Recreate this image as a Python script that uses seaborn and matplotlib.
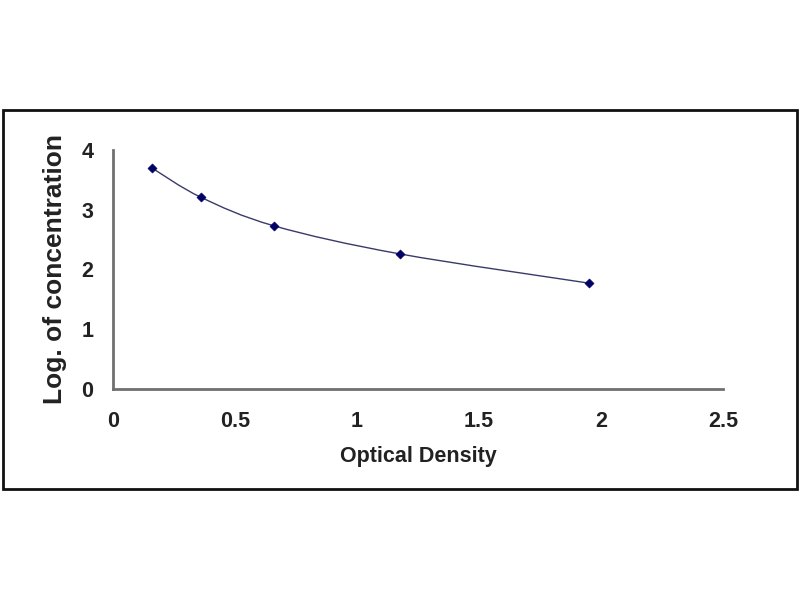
import numpy as np
import pandas as pd
import matplotlib
matplotlib.use("Agg")
import matplotlib.pyplot as plt
from matplotlib.path import Path
from matplotlib.patches import PathPatch, Rectangle
import seaborn as sns

# Data
optical_density = [0.16, 0.36, 0.66, 1.175, 1.95]
log_concentration = [3.70, 3.21, 2.73, 2.26, 1.77]
x_ticks = [0, 0.5, 1, 1.5, 2, 2.5]
x_tick_labels = ["0", "0.5", "1", "1.5", "2", "2.5"]
y_ticks = [0, 1, 2, 3, 4]
y_tick_labels = ["0", "1", "2", "3", "4"]

df = pd.DataFrame({"od": optical_density, "logc": log_concentration})

sns.set_theme(style="white")
plt.rcParams["font.family"] = ["Liberation Sans", "DejaVu Sans"]

fig = plt.figure(figsize=(8, 6), dpi=100)
fig.patch.set_facecolor("white")
ax = fig.add_axes([0.141, 0.352, 0.763, 0.398])

# smoothed line (Catmull-Rom -> cubic Bezier, like a spreadsheet "smoothed line")
pts = np.column_stack([df["od"].to_numpy(), df["logc"].to_numpy()])
verts = [tuple(pts[0])]
codes = [Path.MOVETO]
n = len(pts)
for i in range(n - 1):
    p0 = pts[i - 1] if i > 0 else pts[i]
    p1 = pts[i]
    p2 = pts[i + 1]
    p3 = pts[i + 2] if i + 2 < n else pts[i + 1]
    c1 = p1 + (p2 - p0) / 6.0
    c2 = p2 - (p3 - p1) / 6.0
    verts += [tuple(c1), tuple(c2), tuple(p2)]
    codes += [Path.CURVE4, Path.CURVE4, Path.CURVE4]
ax.add_patch(PathPatch(Path(verts, codes), facecolor="none",
                       edgecolor="#3a3a6a", lw=1.0, zorder=2))

sns.scatterplot(data=df, x="od", y="logc", ax=ax, marker="D", s=22,
                color="#000066", edgecolor="#000066", zorder=3)

ax.set_xlim(0, 2.5)
ax.set_ylim(0, 4)
ax.set_xticks(x_ticks)
ax.set_xticklabels(x_tick_labels)
ax.set_yticks(y_ticks)
ax.set_yticklabels(y_tick_labels)

for s in ["top", "right"]:
    ax.spines[s].set_visible(False)
for s in ["left", "bottom"]:
    ax.spines[s].set_color("#707070")
    ax.spines[s].set_linewidth(2.0)

ax.tick_params(axis="x", direction="in", length=7, width=1.5, color="#707070",
               labelsize=15.5, pad=16, labelcolor="#222222")
ax.tick_params(axis="y", direction="in", length=5, width=1.5, color="#707070",
               labelsize=15.5, pad=14, labelcolor="#222222")
for lab in ax.get_xticklabels() + ax.get_yticklabels():
    lab.set_fontweight("bold")

ax.set_xlabel("Optical Density", fontsize=15.5, fontweight="bold",
              color="#222222", labelpad=10)
ax.set_ylabel("Log. of concentration", fontsize=19, fontweight="bold",
              color="#222222", labelpad=10)
ax.set_facecolor("white")
ax.grid(False)

# outer frame
fig.add_artist(Rectangle((0.004, 0.185), 0.992, 0.632, transform=fig.transFigure,
                         fill=False, edgecolor="#111111", lw=2.0))

fig.savefig("out.png", dpi=100, facecolor="white")
